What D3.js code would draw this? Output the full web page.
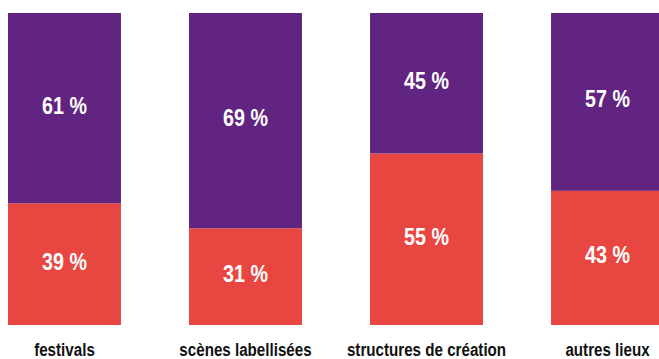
<!DOCTYPE html>
<html>
<head>
<meta charset="utf-8">
<script src="https://cdn.jsdelivr.net/npm/d3@7"></script>
<style>
  html, body { margin: 0; padding: 0; background: #fff; overflow: hidden; }
  svg { display: block; }
  text { font-family: "Liberation Sans", Arial, sans-serif; font-weight: bold; }
</style>
</head>
<body>
<svg id="chart" width="659" height="359"></svg>
<script>
// Venue types and the share of each group (percent)
const categories = ["festivals", "scènes labellisées", "structures de création", "autres lieux"];
const seriesNames = ["bas", "haut"];
const lowerValues = [39, 31, 55, 43];
const upperValues = [61, 69, 45, 57];
const seriesColors = ["#e84641", "#612480"];

const width = 659, height = 359;
const narrow = 0.82; // horizontal squeeze giving a condensed face
const svg = d3.select("#chart");

const x = d3.scaleBand()
  .domain(categories)
  .range([8, 664])
  .paddingInner(0.376)
  .paddingOuter(0);

const y = d3.scaleLinear()
  .domain([0, 100])
  .range([325, 13]);

const rows = categories.map((c, i) => ({ category: c, bas: lowerValues[i], haut: upperValues[i] }));
const stacked = d3.stack().keys(seriesNames)(rows);

const layers = svg.selectAll("g.layer")
  .data(stacked)
  .join("g")
  .attr("class", "layer")
  .attr("fill", (d, i) => seriesColors[i]);

layers.selectAll("rect")
  .data(d => d)
  .join("rect")
  .attr("x", d => x(d.data.category))
  .attr("width", x.bandwidth())
  .attr("y", d => y(d[1]))
  .attr("height", d => y(d[0]) - y(d[1]));

// Percentage labels centred in each segment
layers.selectAll("text")
  .data(d => d)
  .join("text")
  .attr("transform", d =>
    `translate(${x(d.data.category) + x.bandwidth() / 2},${(y(d[0]) + y(d[1])) / 2 - 3}) scale(${narrow},1)`)
  .attr("dy", "0.35em")
  .attr("text-anchor", "middle")
  .attr("fill", "#fff")
  .attr("font-size", "24px")
  .text(d => `${d[1] - d[0]} %`);

// Category axis below the bars
const axis = svg.append("g")
  .attr("transform", "translate(0,325)")
  .call(d3.axisBottom(x).tickSize(0).tickPadding(0));
axis.select(".domain").remove();
axis.selectAll("text")
  .attr("y", 0)
  .attr("dy", 0)
  .attr("transform", `translate(0,31) scale(${narrow},1)`)
  .attr("fill", "#111")
  .attr("font-size", "18.5px")
  .attr("font-family", null);
</script>
</body>
</html>
